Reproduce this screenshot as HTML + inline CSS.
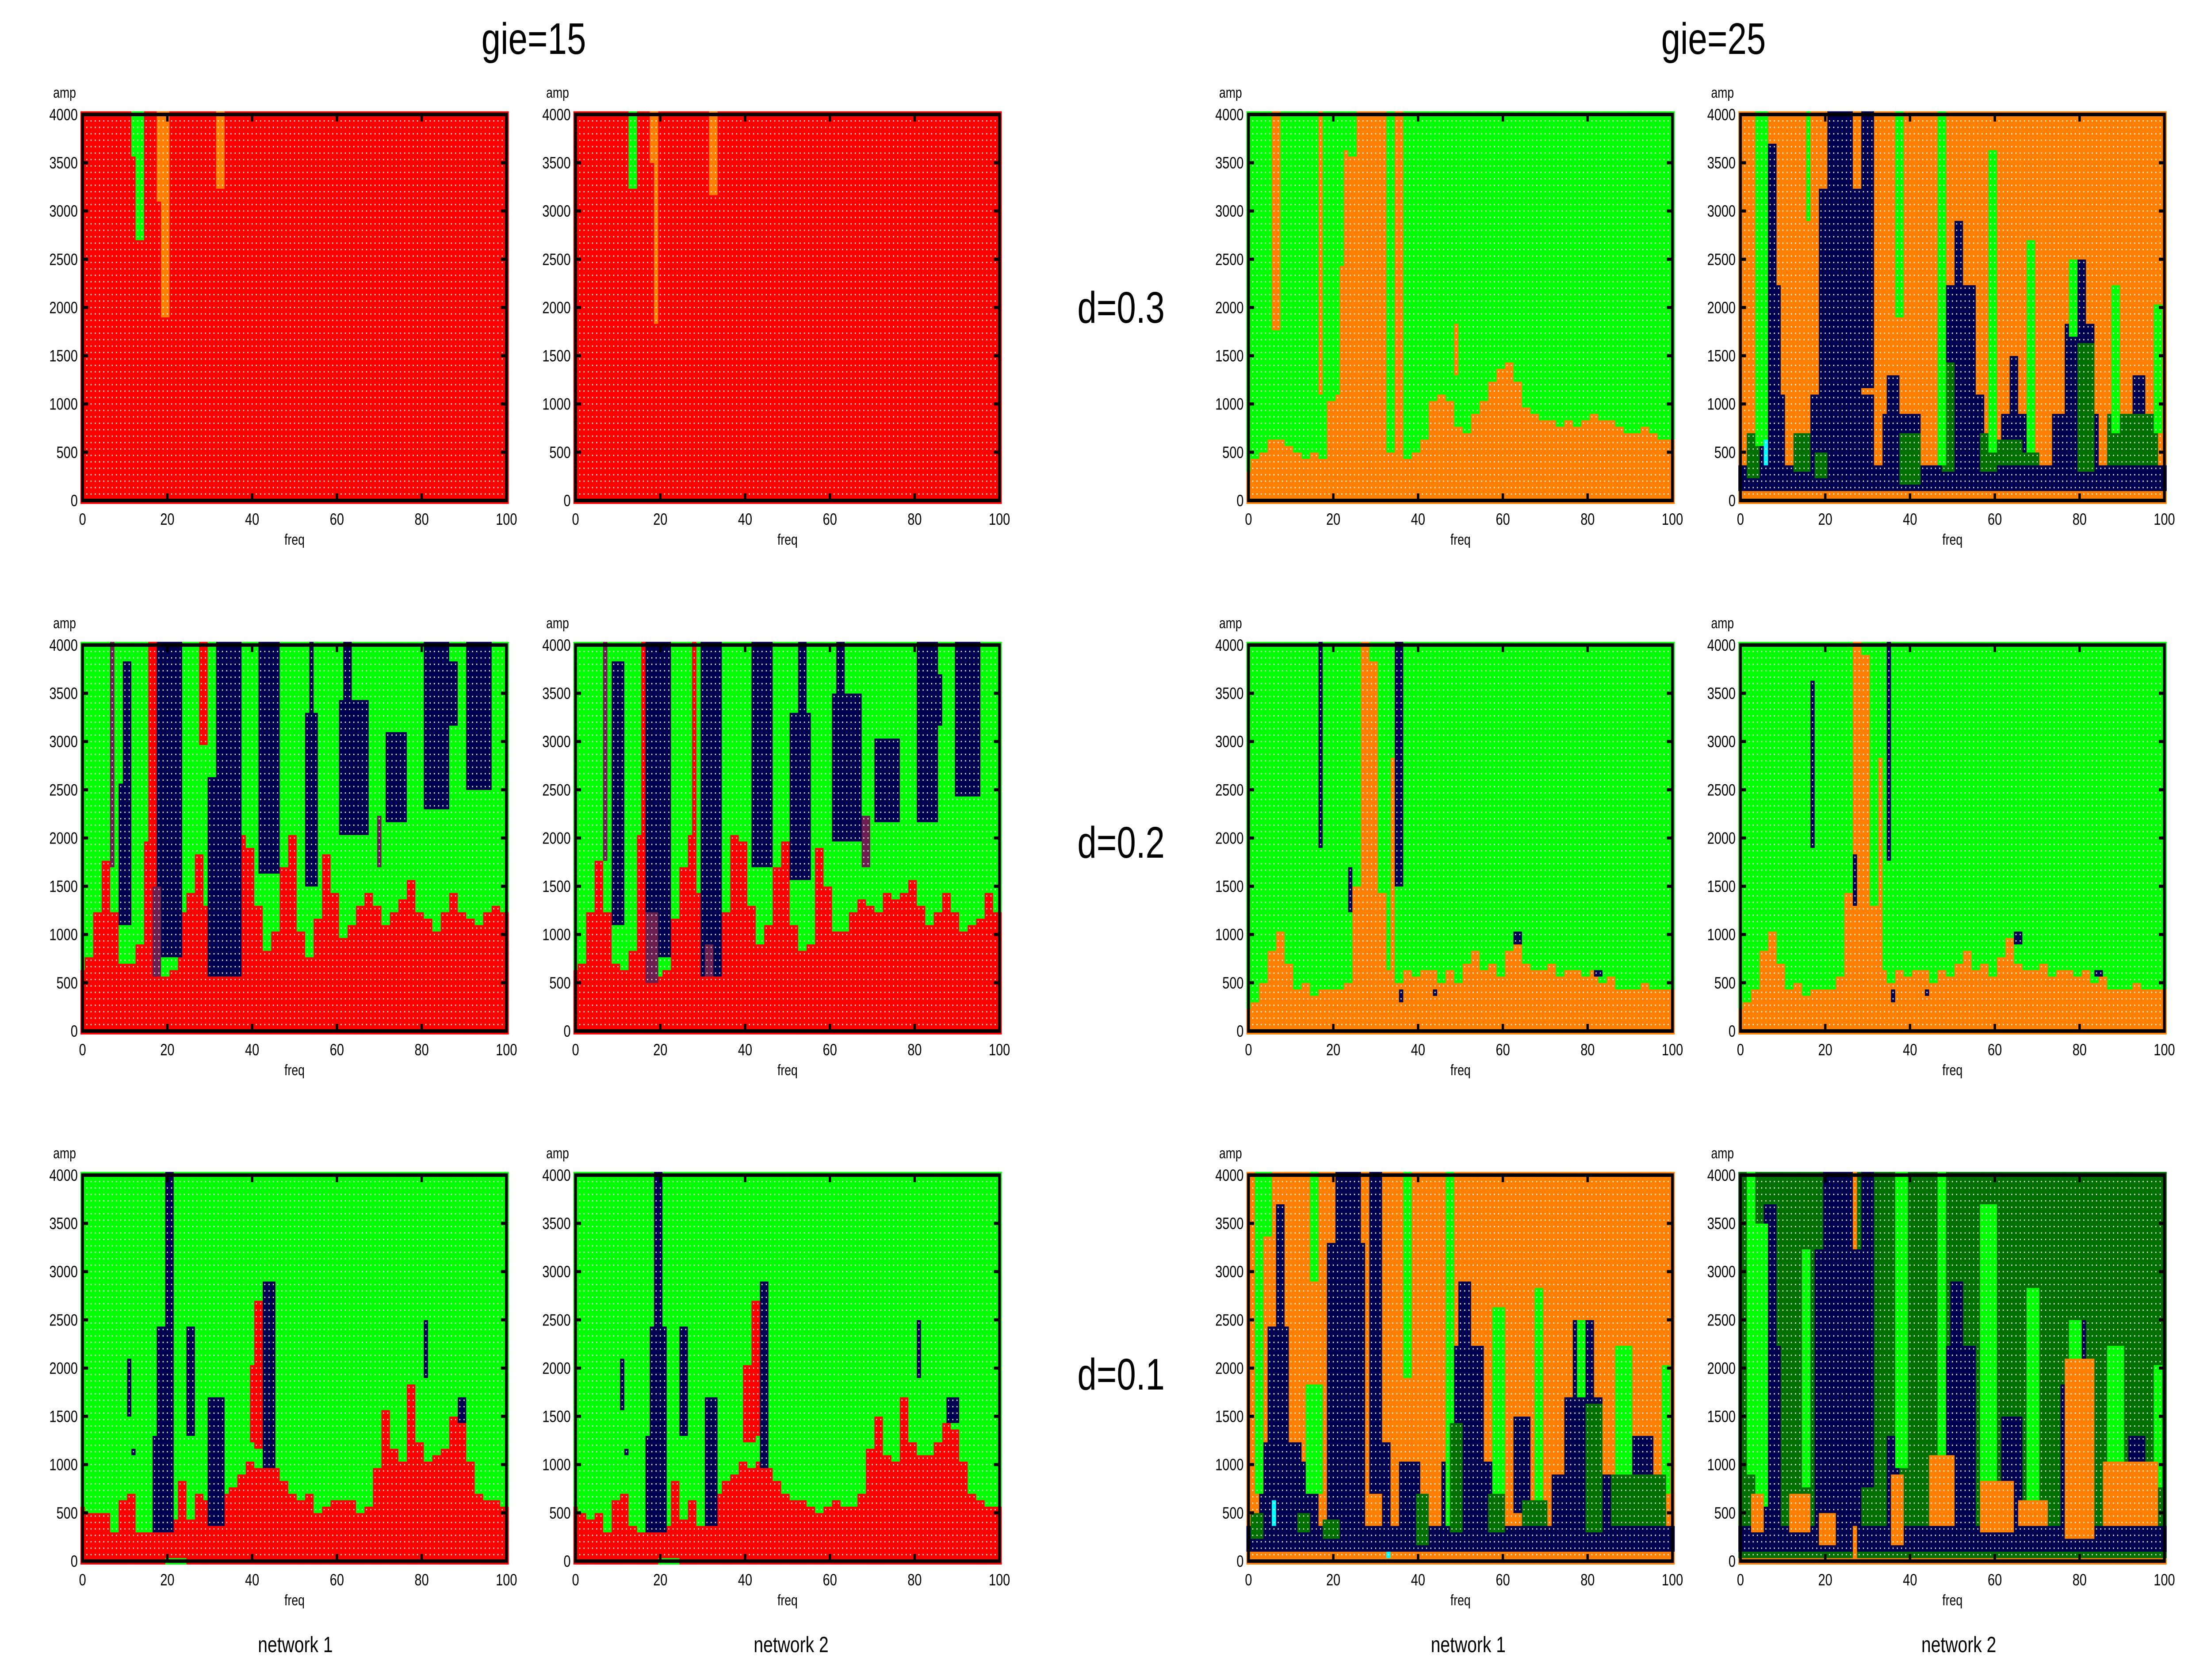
<!DOCTYPE html>
<html><head><meta charset="utf-8"><meta name="viewport" content="width=6400, initial-scale=1"><style>
html,body{margin:0;padding:0;background:#fff;overflow:hidden;width:100vw;height:100vh;}
svg{display:block;width:100vw;height:100vh;}
text{font-family:"Liberation Sans",sans-serif;fill:#000;}
</style></head><body>
<svg id="fig" xmlns="http://www.w3.org/2000/svg" viewBox="0 0 6400 3800" preserveAspectRatio="none">
<rect x="0" y="0" width="6400" height="3800" fill="#fff"/>
<defs id="defs"></defs>
<text x="1545" y="122" font-size="100" text-anchor="middle">gie=15</text>
<text x="4960" y="122" font-size="100" text-anchor="middle">gie=25</text>
<text x="3245" y="730" font-size="100" text-anchor="middle">d=0.3</text>
<text x="3245" y="1940" font-size="100" text-anchor="middle">d=0.2</text>
<text x="3245" y="3143" font-size="100" text-anchor="middle">d=0.1</text>
<text x="855" y="3737" font-size="50" text-anchor="middle">network 1</text>
<text x="2290" y="3737" font-size="50" text-anchor="middle">network 2</text>
<text x="4250" y="3737" font-size="50" text-anchor="middle">network 1</text>
<text x="5670" y="3737" font-size="50" text-anchor="middle">network 2</text>
<g id="plots"></g>
</svg>
<script>
// ---- data ----
const colorMap = {R:'#ff0000',G:'#00ff00',O:'#ff8000',N:'#000050',D:'#007000',P:'#6b1f4f',C:'#00ffff'};
const xTicks = [0,20,40,60,80,100];
const yTicks = [0,500,1000,1500,2000,2500,3000,3500,4000];
const panelNames = ['A','B','G','H','C','D','I','J','E','F','K','L'];
const baseColors = {A:'R',B:'R',C:'G',D:'G',E:'G',F:'G',G:'G',H:'O',I:'G',J:'G',K:'O',L:'D'};
// lower-region boundaries (amp), sampled at freq 0,2,4,...,100
const bndC = [620,770,1230,1750,1200,690,700,900,1970,600,560,600,1250,1400,1800,1300,850,600,1100,2000,1900,1300,850,1050,1700,2000,1000,750,1150,1800,1450,950,1100,1300,1400,1300,1100,1250,1350,1550,1250,1150,1050,1250,1450,1200,1150,1100,1200,1300,1250];
const bndD = [600,700,1200,1750,1250,700,650,800,2000,700,550,650,1150,1700,2000,1400,700,750,1200,2000,1950,1300,900,1100,1700,1950,1100,800,900,1900,1500,1000,1000,1250,1350,1300,1200,1400,1350,1450,1550,1300,1100,1250,1450,1200,1050,1100,1150,1400,1250];
const bndE = [560,500,500,480,330,650,700,330,330,330,330,400,850,450,700,600,450,700,750,900,1050,950,1050,950,850,700,650,700,500,550,600,650,600,500,550,950,1550,1150,1000,1800,1250,1050,1100,1150,1500,1450,1000,700,600,600,580];
const bndF = [560,500,450,480,320,650,700,350,330,300,300,380,800,450,650,350,400,700,800,900,1050,950,1050,950,800,700,650,650,550,500,550,600,550,550,700,1150,1500,1100,1050,1700,1200,1100,1100,1200,1450,1350,1000,700,600,550,580];
const bndG = [280,400,500,600,650,550,500,450,500,450,1000,2400,3600,4000,4000,4000,4000,700,500,450,500,650,1000,1100,1000,750,700,900,1000,1200,1350,1450,1200,950,900,850,800,750,800,750,800,900,800,800,750,700,700,750,700,650,650];
const bndI = [250,300,500,850,1000,700,450,500,350,450,400,400,500,1500,4000,3800,1400,600,500,650,550,600,650,500,600,500,700,800,600,700,550,800,1000,700,650,600,700,550,650,600,550,600,500,550,450,400,450,500,450,400,450];
const bndJ = [250,300,450,800,1000,700,450,500,350,450,400,400,550,1400,4000,3900,1300,600,500,650,550,600,650,500,600,550,700,800,600,700,550,750,950,700,650,600,700,550,650,600,550,600,500,550,450,400,450,500,450,400,450];
const bndColor = {C:'R',D:'R',E:'R',F:'R',G:'O',I:'O',J:'O'};
const boundaries = {C:bndC,D:bndD,E:bndE,F:bndF,G:bndG,I:bndI,J:bndJ};
// stripes: [freqFrom, freqTo, ampLow, ampHigh, color]
const stripesA = [[12,14,3550,4000,'G'],[13,14,2700,4000,'G'],[18,20,3100,4000,'O'],[19,20,1900,4000,'O'],[32,33,3250,4000,'O']];
const stripesB = [[13,14,3250,4000,'G'],[18,19,3500,4000,'O'],[19,19,1850,4000,'O'],[32,33,3200,4000,'O']];
const stripesC = [[7,7,1700,4000,'P'],[9,11,1100,2560,'N'],[10,11,1100,3800,'N'],[16,17,0,4000,'R'],[18,23,760,4000,'N'],[17,18,600,1500,'P'],[28,29,2970,4000,'R'],[30,37,540,2600,'N'],[32,37,2600,4000,'N'],[42,46,1650,4000,'N'],[53,55,1500,3300,'N'],[54,54,3300,4000,'N'],[61,67,2050,3400,'N'],[62,63,3400,4000,'N'],[72,76,2200,3100,'N'],[81,86,2300,4000,'N'],[87,88,3200,3800,'N'],[91,96,2500,4000,'N'],[70,70,1700,2200,'P']];
const stripesD = [[7,7,1800,4000,'P'],[9,11,1100,3800,'N'],[16,17,0,4000,'R'],[17,22,760,4000,'N'],[17,19,500,1200,'P'],[28,28,1300,4000,'R'],[30,34,600,4000,'N'],[31,32,550,900,'P'],[42,46,1700,4000,'N'],[51,55,1600,3300,'N'],[53,54,3300,4000,'N'],[61,67,2000,3500,'N'],[62,63,3500,4000,'N'],[71,76,2200,3000,'N'],[81,85,2200,4000,'N'],[86,86,3200,3700,'N'],[90,95,2450,4000,'N'],[68,69,1700,2200,'P']];
const stripesE = [[40,43,1250,2000,'R'],[41,42,1200,2700,'R'],[17,21,280,1300,'N'],[18,21,1300,2420,'N'],[20,21,2420,4000,'N'],[11,11,1500,2100,'N'],[12,12,1100,1150,'N'],[25,26,1300,2450,'N'],[30,33,400,1700,'N'],[43,45,1000,2900,'N'],[81,81,1900,2500,'N'],[89,90,1450,1700,'N'],[20,24,0,60,'G']];
const stripesF = [[40,42,1250,2000,'R'],[42,43,1300,2700,'R'],[17,21,300,1300,'N'],[18,21,1300,2400,'N'],[19,20,2400,4000,'N'],[11,11,1550,2100,'N'],[12,12,1100,1150,'N'],[25,26,1300,2450,'N'],[31,33,400,1700,'N'],[44,45,1000,2900,'N'],[81,81,1900,2500,'N'],[88,90,1450,1700,'N'],[20,24,0,60,'G']];
const stripesG = [[6,7,1750,4000,'O'],[17,17,1100,4000,'O'],[20,21,1100,4000,'G'],[24,25,3600,4000,'G'],[33,34,500,4000,'G'],[35,36,400,4000,'O'],[49,49,1300,1800,'O']];
const stripesH = [[0,100,70,350,'N'],[7,8,1200,3700,'N'],[5,9,500,2200,'N'],[4,10,350,1100,'N'],[21,26,350,4000,'N'],[19,28,350,3200,'N'],[29,31,1200,4000,'N'],[17,31,350,1100,'N'],[35,37,600,1300,'N'],[34,42,350,900,'N'],[51,52,1000,2900,'N'],[49,55,350,2200,'N'],[47,57,350,1100,'N'],[64,65,800,1500,'N'],[62,67,350,900,'N'],[79,81,1000,2500,'N'],[77,83,350,1800,'N'],[74,84,350,900,'N'],[93,95,600,1300,'N'],[90,97,350,700,'N'],[2,4,250,700,'D'],[13,16,300,700,'D'],[18,20,250,500,'D'],[38,42,200,700,'D'],[48,50,300,1400,'D'],[57,60,300,700,'D'],[61,66,350,600,'D'],[67,70,350,500,'D'],[80,83,300,1600,'D'],[87,98,400,900,'D'],[4,6,600,4000,'G'],[16,16,2900,4000,'G'],[37,38,1900,4000,'G'],[47,48,400,4000,'G'],[59,60,500,3600,'G'],[68,69,500,2700,'G'],[78,79,1700,2500,'G'],[88,89,700,2200,'G'],[98,99,700,2000,'G'],[6,6,400,600,'C'],[33,34,70,130,'C']];
const stripesI = [[17,17,1900,4000,'N'],[24,24,1250,1700,'N'],[35,36,1500,4000,'N'],[36,36,300,420,'N'],[44,44,350,450,'N'],[63,64,900,1000,'N'],[82,83,600,650,'N'],[34,34,500,2800,'O']];
const stripesJ = [[17,17,1900,3650,'N'],[27,27,1300,1800,'N'],[35,35,1800,4000,'N'],[36,36,300,420,'N'],[44,44,350,450,'N'],[65,66,900,1000,'N'],[84,85,600,650,'N'],[33,33,500,2800,'O']];
const stripesK = [[0,100,70,350,'N'],[7,8,1100,3700,'N'],[5,9,500,2400,'N'],[3,12,350,1200,'N'],[13,16,350,1000,'N'],[21,26,350,4000,'N'],[19,27,350,3300,'N'],[29,31,700,4000,'N'],[32,33,350,1200,'N'],[36,40,350,1000,'N'],[50,52,1000,2900,'N'],[48,55,350,2200,'N'],[46,57,350,1000,'N'],[63,66,500,1500,'N'],[77,81,1000,2500,'N'],[75,83,350,1700,'N'],[72,85,350,900,'N'],[91,95,600,1300,'N'],[88,98,350,700,'N'],[2,3,700,4000,'G'],[4,5,3400,4000,'G'],[15,16,2900,4000,'G'],[14,17,700,1800,'G'],[37,38,1900,4000,'G'],[47,48,400,4000,'G'],[58,60,450,2600,'G'],[68,69,500,2800,'G'],[78,79,1700,2500,'G'],[87,90,700,2200,'G'],[98,99,700,2000,'G'],[1,3,250,500,'D'],[12,14,300,500,'D'],[18,21,250,450,'D'],[40,42,200,700,'D'],[48,50,300,1400,'D'],[57,60,300,700,'D'],[65,70,350,600,'D'],[80,83,300,1600,'D'],[86,98,400,900,'D'],[6,6,400,600,'C'],[33,33,60,130,'C']];
const stripesL = [[0,100,0,60,'O'],[0,100,70,350,'N'],[27,27,0,4000,'O'],[6,8,700,3700,'N'],[4,9,400,2200,'N'],[20,26,350,4000,'N'],[18,28,350,3200,'N'],[29,31,800,4000,'N'],[35,37,350,1300,'N'],[50,52,1000,2900,'N'],[48,55,350,2200,'N'],[62,66,400,1500,'N'],[78,81,1000,2500,'N'],[76,83,350,1800,'N'],[92,95,400,1300,'N'],[2,3,900,4000,'G'],[4,6,600,3500,'G'],[15,16,800,3200,'G'],[37,39,1000,4000,'G'],[47,48,550,4000,'G'],[57,60,650,3700,'G'],[68,70,500,2800,'G'],[78,80,1600,2500,'G'],[87,90,700,2200,'G'],[98,99,800,2000,'G'],[3,5,300,700,'O'],[12,16,300,700,'O'],[19,22,200,500,'O'],[36,38,200,900,'O'],[45,50,350,1100,'O'],[57,64,300,800,'O'],[66,72,350,600,'O'],[77,83,250,2100,'O'],[86,98,350,1050,'O']];
const stripes = {A:stripesA,B:stripesB,C:stripesC,D:stripesD,E:stripesE,F:stripesF,G:stripesG,H:stripesH,I:stripesI,J:stripesJ,K:stripesK,L:stripesL};

// ---- layout ----
const panelX = [239,1666,3614,5038];
const rowY = [259,1459,2658];
const PW = 1227, PH = 873;
const NS = 'http://www.w3.org/2000/svg';
const plots = document.getElementById('plots');
const defs = document.getElementById('defs');

function mk(tag, attrs, parent){
  const el = document.createElementNS(NS, tag);
  for (const k in attrs) el.setAttribute(k, attrs[k]);
  if (parent) parent.appendChild(el);
  return el;
}
function cellColor(p, f, amp){
  let c = baseColors[p];
  const b = boundaries[p];
  if (b && amp <= b[Math.round(f/2)]) c = bndColor[p];
  for (const s of stripes[p]) {
    if (f >= s[0] && f <= s[1] && amp >= s[2] && amp <= s[3]) c = s[4];
  }
  return c;
}
panelNames.forEach((p, idx) => {
  const px = panelX[idx % 4], py = rowY[Math.floor(idx / 4)];
  const xs = f => px + f * PW / 100;
  const ys = a => py + PH - a / 4000 * PH;
  const cw = PW / 100, ch = PH / 60;
  const g = mk('g', {}, plots);
  
  
  for (let f = 0; f <= 100; f++) {
    let start = 0, cur = cellColor(p, f, 0);
    for (let j = 1; j <= 61; j++) {
      const c = j <= 60 ? cellColor(p, f, j * 4000 / 60) : null;
      if (c !== cur) {
        const aLo = start * 4000 / 60, aHi = (j - 1) * 4000 / 60;
        const r = mk('rect', {x: (xs(f) - cw / 2).toFixed(2), y: (ys(aHi) - ch / 2).toFixed(2), width: (cw + 0.6).toFixed(2), height: (ys(aLo) - ys(aHi) + ch + 0.6).toFixed(2), fill: colorMap[cur]}, g);
        
        
        start = j; cur = c;
      }
    }
  }
  const pat = mk('pattern', {id: 'dots' + p, patternUnits: 'userSpaceOnUse', x: (px - cw / 2).toFixed(2), y: (py - ch / 2).toFixed(2), width: cw.toFixed(3), height: ch.toFixed(3)}, defs);
  mk('rect', {x: (cw / 2 - 1.5).toFixed(2), y: (ch / 2 - 1.5).toFixed(2), width: 3, height: 3, fill: '#fff'}, pat);
  const ov = mk('rect', {x: px - cw / 2, y: py - ch / 2, width: PW + cw, height: PH + ch, fill: 'url(#dots' + p + ')'}, g);
  
  
  const fr = mk('rect', {x: px, y: py, width: PW, height: PH, fill: 'none', stroke: '#000', 'stroke-width': 8}, g);
  
  
  yTicks.forEach(t => {
    const y = ys(t);
    mk('line', {x1: px, x2: px + 16, y1: y, y2: y, stroke: '#000', 'stroke-width': 7}, g);
    mk('line', {x1: px + PW - 16, x2: px + PW, y1: y, y2: y, stroke: '#000', 'stroke-width': 7}, g);
    const tl = mk('text', {x: px - 14, y: y + 13, 'font-size': 37, 'text-anchor': 'end'}, g);
    tl.textContent = t;
    
    
  });
  xTicks.forEach(t => {
    const x = xs(t);
    mk('line', {x1: x, x2: x, y1: py + PH, y2: py + PH - 16, stroke: '#000', 'stroke-width': 7}, g);
    mk('line', {x1: x, x2: x, y1: py, y2: py + 16, stroke: '#000', 'stroke-width': 7}, g);
    const tl = mk('text', {x: x, y: py + PH + 55, 'font-size': 37, 'text-anchor': 'middle'}, g);
    tl.textContent = t;
    
    
  });
  const ya = mk('text', {x: px - 52, y: py - 38, 'font-size': 34, 'text-anchor': 'middle'}, g);
  ya.textContent = 'amp';
  
  
  const xa = mk('text', {x: px + PW / 2, y: py + PH + 100, 'font-size': 34, 'text-anchor': 'middle'}, g);
  xa.textContent = 'freq';
  
  
});
</script>
</body></html>
